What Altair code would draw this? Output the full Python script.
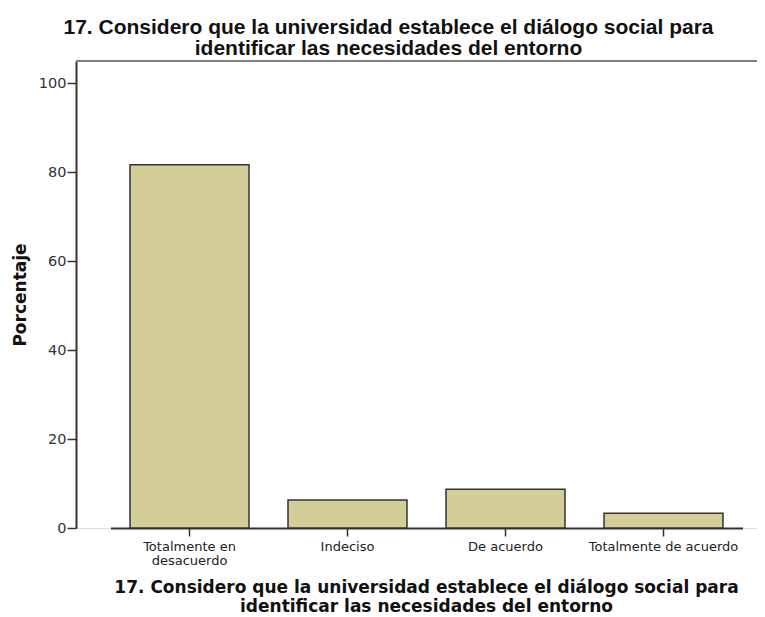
import altair as alt
import pandas as pd

categories = ["Totalmente en desacuerdo", "Indeciso", "De acuerdo", "Totalmente de acuerdo"]
percentages = [81.7, 6.3, 8.7, 3.3]
y_ticks = [0, 20, 40, 60, 80, 100]
title_lines = ["17. Considero que la universidad establece el diálogo social para",
               "identificar las necesidades del entorno"]

df = pd.DataFrame({"cat": categories, "pct": percentages})

W, H = 681, 467

bars = alt.Chart(df).mark_bar(
    fill="#D3CE97", stroke="#333333", strokeWidth=1.5
).encode(
    x=alt.X("cat:N", sort=categories,
            scale=alt.Scale(range=[34.5, 666.5], paddingInner=0.247, paddingOuter=0.1235),
            axis=alt.Axis(
                title=title_lines,
                titleFont="DejaVu Sans", titleFontSize=17, titleFontWeight="bold",
                titleColor="#111111", titleX=350, titleY=64, titleAlign="center",
                titleBaseline="alphabetic", titleLineHeight=19.5,
                labelFont="DejaVu Sans", labelFontSize=13, labelColor="#222222",
                labelAngle=0, labelPadding=4, labelLineHeight=14, labelBaseline="top",
                labelExpr="datum.label == 'Totalmente en desacuerdo' ? ['Totalmente en', 'desacuerdo'] : datum.label",
                tickSize=8, tickColor="#333333", tickWidth=1.5,
                domainColor="#333333", domainWidth=2, labelLimit=300,
            )),
    y=alt.Y("pct:Q", scale=alt.Scale(domain=[0, 105], nice=False, zero=True),
            axis=alt.Axis(
                title="Porcentaje", values=y_ticks,
                titleFont="DejaVu Sans", titleFontSize=17, titleFontWeight="bold",
                titleColor="#111111", titleAngle=270, titleX=-56, titleY=H / 2,
                titleAlign="center", titleBaseline="middle",
                labelFont="DejaVu Sans", labelFontSize=14.5, labelColor="#333333",
                labelPadding=1, tickSize=9, tickColor="#333333", tickWidth=1.5,
                domainColor="#333333", domainWidth=2, grid=False,
            )),
)

top_border = alt.Chart(df).mark_rule(color="#808080", strokeWidth=2).encode(
    x=alt.value(0), x2=alt.value(W), y=alt.value(0)
)

chart = alt.layer(bars, top_border).properties(
    width=W, height=H,
    autosize=alt.AutoSizeParams(type="none"),
    padding={"left": 68, "top": 53, "right": 0, "bottom": 89},
    title=alt.TitleParams(
        text=title_lines, font="Liberation Sans", fontSize=21, fontWeight="bold",
        color="#111111", anchor="middle", dx=-28, offset=1.5, lineHeight=21,
    ),
).configure_view(
    fill="#EEEEEE", stroke=None
).configure(background="white")

chart.save("out.html", embed_options={"renderer": "svg", "actions": False})
